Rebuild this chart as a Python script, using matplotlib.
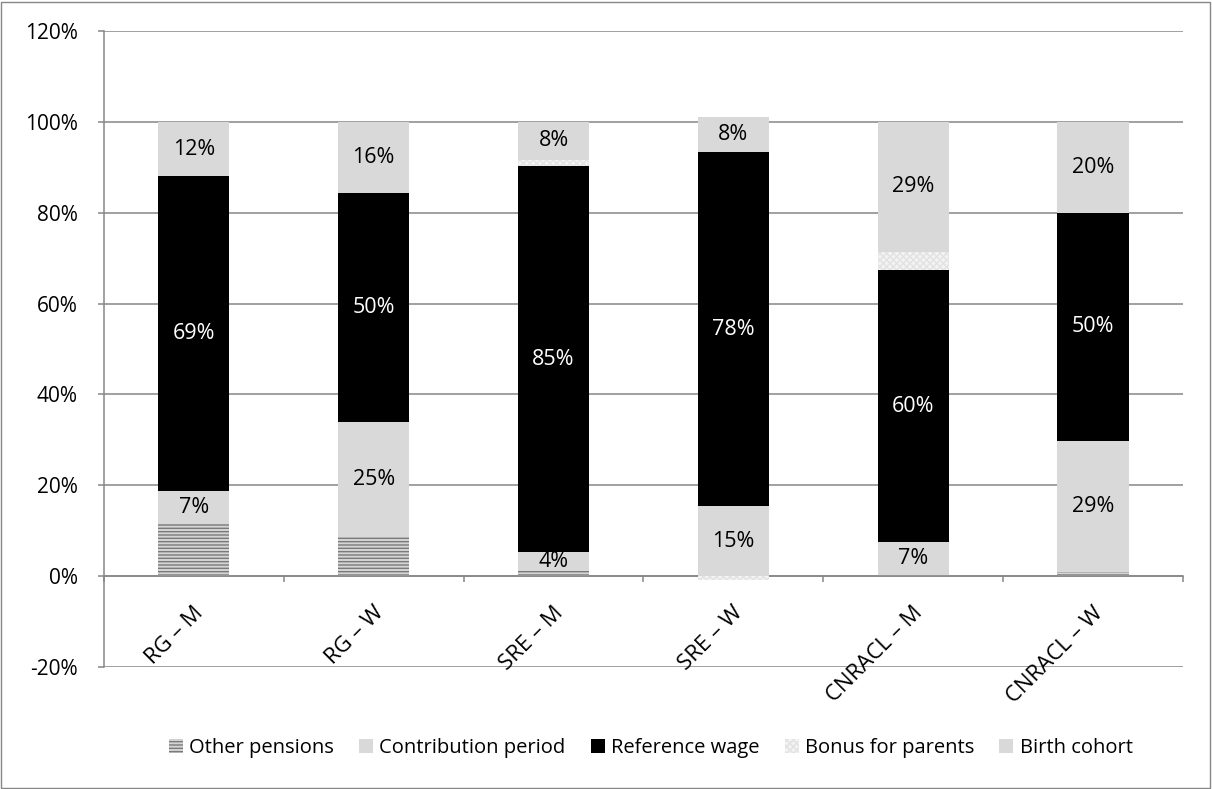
import numpy as np
import matplotlib.pyplot as plt
from matplotlib.patches import Rectangle

plt.rcParams['font.family'] = ['Open Sans', 'DejaVu Sans']
plt.rcParams['hatch.linewidth'] = 1.0

# data (shares in %)
categories = ['RG – M', 'RG – W', 'SRE – M', 'SRE – W', 'CNRACL – M', 'CNRACL – W']
other_pensions = [11.4, 8.6, 1.2, 0.0, 0.3, 1.0]
contribution_period = [7.4, 25.3, 4.1, 15.4, 7.2, 28.7]
reference_wage = [69.2, 50.4, 85.0, 78.0, 59.9, 50.3]
bonus_parents = [0.0, 0.0, 1.3, -0.8, 4.0, 0.0]
birth_cohort = [12.0, 15.7, 8.4, 7.7, 28.6, 20.0]

series = [
    ('Other pensions', other_pensions, dict(facecolor='#d4d4d4', edgecolor='#7a7a7a', hatch='-----'), None),
    ('Contribution period', contribution_period, dict(facecolor='#d9d9d9', edgecolor='#d9d9d9'), 'black'),
    ('Reference wage', reference_wage, dict(facecolor='black', edgecolor='black'), 'white'),
    ('Bonus for parents', bonus_parents, dict(facecolor='#f3f3f3', edgecolor='#e2e2e2', hatch='xxxxx'), None),
    ('Birth cohort', birth_cohort, dict(facecolor='#d9d9d9', edgecolor='#d9d9d9'), 'black'),
]

fig = plt.figure(figsize=(12.12, 7.89), dpi=100)
ax = fig.add_axes([0.0858, 0.1546, 0.8902, 0.8061])

x = np.arange(len(categories))
width = 0.395
pos_base = np.zeros(len(categories))
neg_base = np.zeros(len(categories))
handles = []
for name, vals, style, label_color in series:
    vals = np.array(vals)
    base = np.where(vals >= 0, pos_base, neg_base)
    ax.bar(x, vals, width, bottom=base, linewidth=0, zorder=3, **style)
    handles.append(Rectangle((0, 0), 1, 1, linewidth=0, **style))
    if label_color is not None:
        for xi, b, v in zip(x, base, vals):
            ax.text(xi, b + v / 2, f'{round(v)}%', ha='center', va='center',
                    fontsize=15.5, color=label_color, zorder=4)
    pos_base = pos_base + np.where(vals >= 0, vals, 0)
    neg_base = neg_base + np.where(vals < 0, vals, 0)

ax.set_xlim(-0.5, len(categories) - 0.5)
ax.set_ylim(-20, 120)
ax.set_yticks(np.arange(-20, 121, 20))
ax.set_yticklabels([f'{v}%' for v in range(-20, 121, 20)], fontsize=15)
ax.yaxis.grid(True, color='#868686', linewidth=1.1)
ax.set_axisbelow(True)

ax.set_xticks(np.arange(-0.5, len(categories), 1.0))
ax.set_xticklabels([])
for xi, name in zip(x, categories):
    ax.text(xi - 0.005, -5.8, name, ha='right', va='top', rotation=45,
            rotation_mode='anchor', fontsize=16)

for s in ['top', 'right']:
    ax.spines[s].set_visible(False)
ax.spines['bottom'].set_position(('data', 0))
ax.spines['bottom'].set_color('#868686')
ax.spines['left'].set_color('#868686')
ax.spines['bottom'].set_linewidth(1.1)
ax.spines['left'].set_linewidth(1.1)
ax.tick_params(axis='both', colors='#868686', length=4.5, width=1.1, labelcolor='black')
ax.tick_params(axis='y', pad=14.5)

fig.legend(handles, [s[0] for s in series], loc='center', bbox_to_anchor=(0.537, 0.052),
           ncol=5, frameon=False, fontsize=14.5, handlelength=0.7, handleheight=0.7,
           handletextpad=0.3, columnspacing=1.25)

fig.patches.append(Rectangle((0.0005, 0.001), 0.998, 0.997, transform=fig.transFigure,
                             fill=False, edgecolor='#868686', linewidth=1))

fig.savefig('out.png', dpi=100)
